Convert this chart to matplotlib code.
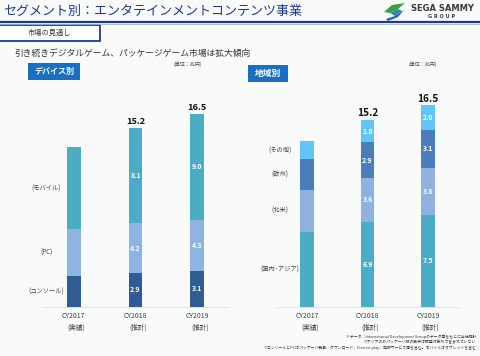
import matplotlib
matplotlib.use("Agg")
import matplotlib.pyplot as plt
from matplotlib.patches import Rectangle, Polygon
from matplotlib.lines import Line2D

plt.rcParams["font.family"] = ["Noto Sans CJK JP", "DejaVu Sans"]

# data (兆円)
years = ["CY2017", "CY2018", "CY2019"]
year_notes = ["(実績)", "(推計)", "(推計)"]

device_names = ["(コンソール)", "(PC)", "(モバイル)"]
console = [2.6, 2.9, 3.1]
pc = [4.0, 4.2, 4.3]
mobile = [7.0, 8.1, 9.0]

region_names = ["(国内･アジア)", "(北米)", "(欧州)", "(その他)"]
asia = [6.1, 6.9, 7.5]
north_america = [3.4, 3.6, 3.8]
europe = [2.5, 2.9, 3.1]
other = [1.5, 1.8, 2.0]

totals = [None, "15.2", "16.5"]

W, H = 480, 356
BG = "#f8fbfa"
NAVY = "#1f3a8c"

fig = plt.figure(figsize=(W / 100, H / 100), dpi=100, facecolor=BG)


def px(x, y):
    # pixel (top-left origin) -> figure fraction
    return x / W, 1 - y / H


# ---- header ----
fig.text(*px(3, 11), "セグメント別：エンタテインメントコンテンツ事業", fontsize=9.4,
         color=NAVY, va="center", ha="left")
fig.add_artist(Line2D([0, 1], [1 - 22 / H] * 2, color=NAVY, lw=1.6))
fig.add_artist(Line2D([0, 1], [1 - 24 / H] * 2, color="#9fb3d9", lw=0.6))

# logo
fig.add_artist(Polygon([px(384, 12), px(392, 5), px(405, 3), px(398, 9), px(390, 13)],
                       closed=True, color="#3aa142", lw=0))
fig.add_artist(Polygon([px(386, 19), px(395, 16), px(404, 10), px(398, 17), px(388, 21)],
                       closed=True, color="#1d5fb4", lw=0))
fig.add_artist(Polygon([px(390, 13), px(398, 9), px(402, 11), px(395, 16)],
                       closed=True, color="#2f86a8", lw=0))
fig.text(*px(442, 8.5), "SEGA SAMMY", fontsize=6.0, fontweight="bold",
         color="#3a3a3a", ha="center", va="center", family="DejaVu Sans")
fig.text(*px(442, 16), "G R O U P", fontsize=3.6, fontweight="bold",
         color="#3a3a3a", ha="center", va="center", family="DejaVu Sans")

# "市場の見通し" box
x0, y0 = px(-1, 41)
fig.add_artist(Rectangle((x0, y0), 101 / W, 16 / H, transform=fig.transFigure,
                         facecolor="white", edgecolor=NAVY, lw=1.3))
fig.text(*px(49, 33), "市場の見通し", fontsize=5.2, color="#333333",
         ha="center", va="center")

fig.text(*px(14, 53), "引き続きデジタルゲーム、パッケージゲーム市場は拡大傾向",
         fontsize=6.3, color="#333333", ha="left", va="center")


def tag(x, y, w, h, text, fs):
    fx, fy = px(x, y + h)
    fig.add_artist(Rectangle((fx, fy), w / W, h / H, transform=fig.transFigure,
                             facecolor="#1b6fc2", edgecolor="none"))
    fig.text(*px(x + w / 2, y + h / 2), text, fontsize=fs, color="white",
             fontweight="bold", ha="center", va="center")


tag(28, 63, 52, 17, "デバイス別", 5.8)
tag(248, 65, 40, 17, "地域別", 6.3)
fig.text(*px(188, 64), "(単位：兆円)", fontsize=3.6, color="#444444", ha="center", va="center")
fig.text(*px(423, 64), "(単位：兆円)", fontsize=3.6, color="#444444", ha="center", va="center")


def make_axes(left, right, scale):
    base = 307
    top = base - 18 * scale
    ax = fig.add_axes([left / W, (H - base) / H, (right - left) / W, (base - top) / H])
    ax.set_xlim(-0.5, 2.5)
    ax.set_ylim(0, 18)
    ax.patch.set_alpha(0)
    for s in ["top", "right", "left"]:
        ax.spines[s].set_visible(False)
    ax.spines["bottom"].set_color("#dcdcdc")
    ax.spines["bottom"].set_linewidth(0.6)
    ax.set_yticks([])
    ax.set_xticks([])
    for i, (yr, note) in enumerate(zip(years, year_notes)):
        ax.annotate(yr, (i, 0), xycoords=("data", "axes fraction"), xytext=(0, -6.5),
                    textcoords="offset points", ha="center", va="center",
                    fontsize=5.0, color="#404040")
        ax.annotate(note, (i, 0), xycoords=("data", "axes fraction"), xytext=(2, -14.5),
                    textcoords="offset points", ha="center", va="center",
                    fontsize=4.8, color="#404040")
    return ax


def stack(ax, series, colors, names, width, total_fs):
    xs = range(len(years))
    bottom = [0.0] * len(years)
    for vals, col, name in zip(series, colors, names):
        ax.bar(xs, vals, width, bottom=bottom, color=col, edgecolor="none")
        for i, v in enumerate(vals):
            if i > 0:
                ax.text(i, bottom[i] + v / 2, f"{v:.1f}", ha="center", va="center",
                        fontsize=5.0, color="white", fontweight="bold")
        ax.text(-0.45, bottom[0] + vals[0] / 2, name, ha="center", va="center",
                fontsize=4.5, color="#404040", clip_on=False)
        bottom = [b + v for b, v in zip(bottom, vals)]
    for i, t in enumerate(totals):
        if t:
            ax.annotate(t, (i, bottom[i]), xytext=(0, 1.2), textcoords="offset points",
                        ha="center", va="bottom", fontsize=total_fs,
                        fontweight="bold", color="#111111")


ax1 = make_axes(43, 228, 11.77)
stack(ax1, [console, pc, mobile], ["#2f5c92", "#8eb4e3", "#4bacc6"],
      device_names, 0.22, 6.6)

ax2 = make_axes(277, 458, 12.3)
stack(ax2, [asia, north_america, europe, other],
      ["#4bacc6", "#8fb1de", "#4a7ebb", "#63c5f5"], region_names, 0.23, 7.3)

# footnotes
notes = [
    "※データ：International Development Groupのデータ等をもとに当社推計",
    "※アジアのみパッケージ版の数字は調査対象外で含まれていない",
    "※コンソールとPCはパッケージ製品、ダウンロード、Free-to-play、定額サービス等を含む。モバイルはタブレットを含む",
]
for yy, n in zip([337, 342, 347.5], notes):
    fig.text(*px(476, yy), n, fontsize=2.75, color="#333333", ha="right", va="center")

fig.savefig("out.png", dpi=100, facecolor=BG)
